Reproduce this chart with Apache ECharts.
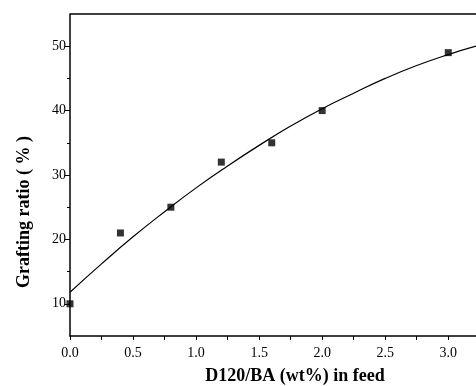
<!DOCTYPE html>
<html><head><meta charset="utf-8">
<script src="https://cdn.jsdelivr.net/npm/echarts@6/dist/echarts.min.js"></script>
<style>html,body{margin:0;padding:0;background:#fff}#c{width:476px;height:386px}</style>
</head><body><div id="c"></div>
<script>
// measured data points
const xData = [0.0, 0.4, 0.8, 1.2, 1.6, 2.0, 3.0];
const yData = [10, 21, 25, 32, 35, 40, 49];
// fitted curve
const fitX = [0, 0.25, 0.5, 0.75, 1.0, 1.25, 1.5, 1.75, 2.0, 2.25, 2.5, 2.75, 3.0, 3.22];
const fitY = [11.8, 16.2, 20.4, 24.3, 28.0, 31.4, 34.6, 37.6, 40.3, 42.7, 45.0, 47.0, 48.7, 50.0];
const xLabels = [0, 0.5, 1.0, 1.5, 2.0, 2.5, 3.0];
const yLabels = [10, 20, 30, 40, 50];
const yMinor = [15, 25, 35, 45];
const xTitle = 'D120/BA (wt%) in feed';
const yTitle = 'Grafting ratio ( % )';

const chart = echarts.init(document.getElementById('c'));
const font = '"Liberation Serif", "Times New Roman", serif';
const gridBox = {left: 70, right: 0, top: 14, bottom: 50};
chart.setOption({
  animation: false,
  grid: [Object.assign({}, gridBox), Object.assign({}, gridBox)],
  xAxis: [{
    type: 'value', min: 0, max: 3.22, interval: 0.25, gridIndex: 0,
    axisLine: {lineStyle: {color: '#000', width: 1.5}},
    axisTick: {show: true, inside: false, length: 4, lineStyle: {color: '#000', width: 1}},
    axisLabel: {customValues: xLabels, formatter: v => v.toFixed(1), color: '#000', fontFamily: font, fontSize: 14, margin: 10},
    splitLine: {show: false}
  }, {
    type: 'value', min: 0, max: 3.22, gridIndex: 1, show: false
  }],
  yAxis: [{
    type: 'value', min: 5, max: 55, gridIndex: 0, position: 'left',
    axisLine: {show: true, lineStyle: {color: '#000', width: 1.5}},
    axisTick: {show: true, customValues: yLabels, length: 5, lineStyle: {color: '#000', width: 1}},
    axisLabel: {customValues: yLabels, color: '#000', fontFamily: font, fontSize: 14, margin: 4},
    splitLine: {show: false}
  }, {
    type: 'value', min: 5, max: 55, gridIndex: 1, position: 'left',
    axisLine: {show: false},
    axisTick: {show: true, customValues: yMinor, length: 3, lineStyle: {color: '#000', width: 1}},
    axisLabel: {show: false},
    splitLine: {show: false}
  }],
  graphic: [
    {type: 'line', shape: {x1: 70, y1: 14, x2: 476, y2: 14}, style: {stroke: '#000', lineWidth: 1.5}},
    {type: 'text', x: 24, y: 212, rotation: Math.PI / 2,
     style: {text: yTitle, font: 'bold 18px ' + font, fill: '#000', textAlign: 'center', textVerticalAlign: 'middle'}},
    {type: 'text', x: 295, y: 376,
     style: {text: xTitle, font: 'bold 18px ' + font, fill: '#000', textAlign: 'center', textVerticalAlign: 'middle'}}
  ],
  series: [
    {type: 'line', xAxisIndex: 0, yAxisIndex: 0, data: fitX.map((x, i) => [x, fitY[i]]), smooth: true, showSymbol: false,
     lineStyle: {color: '#000', width: 1.2}, clip: true},
    {type: 'scatter', xAxisIndex: 0, yAxisIndex: 0, data: xData.map((x, i) => [x, yData[i]]), symbol: 'rect', symbolSize: 7,
     itemStyle: {color: '#000'}, clip: false}
  ]
});
</script></body></html>
